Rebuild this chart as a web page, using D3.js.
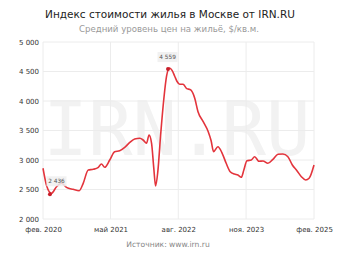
<!DOCTYPE html>
<html>
<head>
<meta charset="utf-8">
<script src="https://cdn.jsdelivr.net/npm/d3@7"></script>
<style>
  body { margin: 0; background: #fff; }
  #chart { width: 350px; height: 255px; }
  text { font-family: "DejaVu Sans", Verdana, sans-serif; }
</style>
</head>
<body>
<div id="chart"></div>
<script>
// price index, $/sq.m
const dates = [
  "2020-02-01","2020-02-26","2020-03-29","2020-05-02","2020-06-05","2020-07-08","2020-08-22","2020-10-02",
  "2020-10-29","2020-12-02","2021-01-05","2021-02-08","2021-03-01","2021-03-23","2021-04-26","2021-05-29",
  "2021-07-02","2021-08-05","2021-09-08","2021-10-11","2021-11-15","2021-12-07","2021-12-30","2022-01-16",
  "2022-02-02","2022-02-17","2022-03-01","2022-03-16","2022-04-04","2022-04-26","2022-05-14","2022-06-03",
  "2022-06-20","2022-07-08","2022-07-24","2022-08-10","2022-09-02","2022-09-25","2022-10-24","2022-11-20",
  "2022-12-12","2023-01-16","2023-02-19","2023-03-10","2023-03-27","2023-04-25","2023-05-24","2023-06-20",
  "2023-07-17","2023-08-15","2023-09-07","2023-09-30","2023-10-17","2023-11-07","2023-12-06","2023-12-29",
  "2024-01-27","2024-02-23","2024-03-27","2024-04-30","2024-06-03","2024-07-06","2024-08-09","2024-09-08",
  "2024-10-09","2024-11-08","2024-12-07","2024-12-30","2025-02-01"
];
const values = [
  2860, 2560, 2436, 2547, 2605, 2537, 2503, 2480,
  2605, 2831, 2842, 2876, 2932, 2876, 3000, 3141,
  3158, 3215, 3297, 3356, 3368, 3339, 3283, 3424,
  3283, 2859, 2559, 2802, 3424, 4046, 4420, 4559,
  4520, 4420, 4330, 4283, 4283, 4215, 4187, 4046,
  3819, 3649, 3480, 3330, 3141, 3225, 3114, 2944,
  2802, 2763, 2746, 2707, 2831, 2988, 3000, 3056,
  2978, 2983, 2944, 3012, 3097, 3102, 3056, 2915,
  2819, 2717, 2661, 2690, 2915
];
const yTicks = [2000, 2500, 3000, 3500, 4000, 4500, 5000];
const xTickDates = ["2020-02-01", "2021-05-01", "2022-08-01", "2023-11-01", "2025-02-01"];
const xTickLabels = ["фев. 2020", "май 2021", "авг. 2022", "ноя. 2023", "фев. 2025"];
const annotated = ["2020-03-29", "2022-06-03"];

const width = 350, height = 255;
const parse = d3.timeParse("%Y-%m-%d");
const data = dates.map((d, i) => ({ date: parse(d), value: values[i] }));

const svg = d3.select("#chart").append("svg")
  .attr("width", width)
  .attr("height", height);

const x = d3.scaleTime()
  .domain([parse("2020-02-01"), parse("2025-02-01")])
  .range([43, 314]);
const y = d3.scaleLinear()
  .domain([2000, 5000])
  .range([219, 42]);

const fmt = v => d3.format(",")(v).replace(/,/g, " ");

// watermark
svg.append("text")
  .attr("x", 177)
  .attr("y", 155)
  .attr("text-anchor", "middle")
  .style("font-family", "'DejaVu Sans Mono', monospace")
  .attr("font-size", 74)
  .attr("fill", "#f2f2f2")
  .text("IRN.RU");

// grid
svg.append("g").selectAll("line")
  .data(yTicks)
  .enter().append("line")
  .attr("x1", 43).attr("x2", 314)
  .attr("y1", d => y(d)).attr("y2", d => y(d))
  .attr("stroke", "#ececec");

svg.append("g").selectAll("line")
  .data(xTickDates)
  .enter().append("line")
  .attr("x1", d => x(parse(d))).attr("x2", d => x(parse(d)))
  .attr("y1", y(5000)).attr("y2", y(2000))
  .attr("stroke", "#ececec");

// axes
const yAxis = svg.append("g")
  .attr("transform", "translate(43,0)")
  .call(d3.axisLeft(y).tickValues(yTicks).tickFormat(fmt).tickSize(0).tickPadding(4));
yAxis.select(".domain").remove();
yAxis.selectAll("text").attr("font-size", 7).attr("fill", "#333");

const xAxis = svg.append("g")
  .attr("transform", "translate(0,219)")
  .call(d3.axisBottom(x)
    .tickValues(xTickDates.map(parse))
    .tickFormat((d, i) => xTickLabels[i])
    .tickSize(0).tickPadding(8));
xAxis.select(".domain").remove();
xAxis.selectAll("text").attr("font-size", 7).attr("fill", "#333");

// line
const line = d3.line()
  .x(d => x(d.date))
  .y(d => y(d.value))
  .curve(d3.curveMonotoneX);

svg.append("path")
  .datum(data)
  .attr("fill", "none")
  .attr("stroke", "#e3343c")
  .attr("stroke-width", 1.6)
  .attr("d", line);

// annotations
const notes = data.filter(d => annotated.includes(d3.timeFormat("%Y-%m-%d")(d.date)));

svg.append("g").selectAll("circle")
  .data(notes)
  .enter().append("circle")
  .attr("cx", d => x(d.date) - 1.5)
  .attr("cy", d => y(d.value) + 1)
  .attr("r", 2)
  .attr("fill", "#c81e2a");

const lab = svg.append("g").selectAll("g")
  .data(notes)
  .enter().append("g")
  .attr("transform", (d, i) => i === 0
    ? `translate(${x(d.date) + 5},${y(d.value) - 12})`
    : `translate(${x(d.date) - 2},${y(d.value) - 11})`);

lab.append("rect")
  .attr("x", -10).attr("y", -5)
  .attr("width", 20).attr("height", 10)
  .attr("fill", "#eeeeee")
  .attr("opacity", 0.85);

lab.append("text")
  .attr("text-anchor", "middle")
  .attr("dy", "0.35em")
  .attr("font-size", 5.8)
  .attr("fill", "#555")
  .text(d => fmt(d.value));

// titles
svg.append("text")
  .attr("x", 170).attr("y", 18)
  .attr("text-anchor", "middle")
  .attr("font-size", 10.5)
  .attr("fill", "#222")
  .text("Индекс стоимости жилья в Москве от IRN.RU");

svg.append("text")
  .attr("x", 169).attr("y", 32)
  .attr("text-anchor", "middle")
  .attr("font-size", 8.6)
  .attr("fill", "#999")
  .text("Средний уровень цен на жильё, $/кв.м.");

svg.append("text")
  .attr("x", 168).attr("y", 247)
  .attr("text-anchor", "middle")
  .attr("font-size", 7.6)
  .attr("fill", "#888")
  .text("Источник: www.irn.ru");
</script>
</body>
</html>
